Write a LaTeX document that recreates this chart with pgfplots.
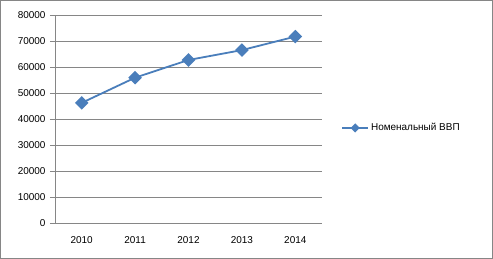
\documentclass[border=0pt]{standalone}
\usepackage{pgfplots}
\pgfplotsset{compat=1.18}
\usepackage{fontspec}
\setmainfont{Liberation Sans}
\definecolor{serblue}{RGB}{74,126,187}
\definecolor{gridgray}{RGB}{134,134,134}
\begin{document}
\begin{tikzpicture}
\useasboundingbox (0bp,0bp) rectangle (493bp,259bp);
\draw[gridgray, line width=0.8bp] (0.5bp,0.5bp) rectangle (492.5bp,258.5bp);
\begin{axis}[
  at={(55bp,36bp)}, anchor=south west,
  scale only axis, width=267bp, height=208bp,
  xmin=0.5, xmax=5.5, ymin=0, ymax=80000,
  xtick={1,2,3,4,5},
  xticklabels={2010,2011,2012,2013,2014},
  ytick={0,10000,...,80000},
  scaled y ticks=false,
  yticklabel style={/pgf/number format/fixed, /pgf/number format/1000 sep={}, xshift=-1bp},
  /pgf/number format/assume math mode=true,
  ymajorgrids, major grid style={gridgray, line width=0.8bp},
  axis x line*=bottom, axis y line*=left,
  axis line style={gridgray, line width=0.8bp, -},
  x tick style={draw=none},
  y tick style={gridgray, line width=0.8bp},
  tick align=outside, major tick length=5bp,
  extra x ticks={0.5,1.5,2.5,3.5,4.5,5.5},
  extra x tick labels={},
  extra x tick style={grid=none, tick style={gridgray, line width=0.8bp, draw=gridgray}, major tick length=5bp, tick align=outside},
  tick label style={font=\fontsize{10}{11}\selectfont, text=black},
  xticklabel style={yshift=-5bp},
  legend style={at={(1.06,0.457)}, anchor=west, draw=none, fill=none, font=\fontsize{10}{11}\selectfont, legend cell align=left},
  legend image code/.code={\draw[mark repeat=2, mark phase=2, mark options={fill=serblue, rotate=45, scale=0.6}] plot coordinates {(0cm,0cm) (0.46cm,0cm) (0.92cm,0cm)};},
]
\addplot[serblue, line width=1.8bp, mark=square*, mark size=3.9bp, mark options={fill=serblue, rotate=45}]
  coordinates {(1,46200) (2,55900) (3,62700) (4,66500) (5,71700)};
\addlegendentry{Номенальный ВВП}
\end{axis}
\end{tikzpicture}
\end{document}
